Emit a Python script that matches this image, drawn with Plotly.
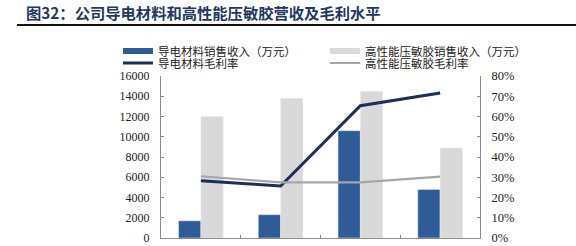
import plotly.graph_objects as go

categories = ["2019", "2020", "2021", "2022"]
conductive_rev = [1700, 2300, 10600, 4800]
adhesive_rev = [12000, 13800, 14500, 8900]
conductive_margin = [0.283, 0.257, 0.653, 0.716]
adhesive_margin = [0.305, 0.275, 0.275, 0.303]

names = ["导电材料销售收入（万元）", "高性能压敏胶销售收入（万元）",
         "导电材料毛利率", "高性能压敏胶毛利率"]
c_blue, c_gray, c_navy, c_lgray = "#2f5b97", "#d9d9d9", "#1c2e5a", "#a6a6a6"

W, H = 576, 246
L, R, T, B = 161, 96, 76, 8
pw, ph = W - L - R, H - T - B
def px(x): return (x - L) / pw
def py(y): return (H - B - y) / ph

fig = go.Figure()
fig.add_bar(x=categories, y=conductive_rev, marker_color=c_blue, name=names[0],
            showlegend=False)
fig.add_bar(x=categories, y=adhesive_rev, marker_color=c_gray, name=names[1],
            showlegend=False)
fig.add_scatter(x=categories, y=conductive_margin, yaxis="y2", mode="lines",
                line=dict(color=c_navy, width=3), name=names[2], showlegend=False)
fig.add_scatter(x=categories, y=adhesive_margin, yaxis="y2", mode="lines",
                line=dict(color=c_lgray, width=2.2), name=names[3], showlegend=False)

# legend entries (one legend per entry for compact spacing)
leg_specs = [
    (names[0], c_blue, 6, "legend", 118, 51),
    (names[2], c_navy, 3, "legend2", 118, 63),
    (names[1], c_gray, 6, "legend3", 325, 51),
    (names[3], c_lgray, 2.2, "legend4", 325, 63),
]
font_fam = "Liberation Serif, Noto Sans CJK SC"
legend_layouts = {}
for nm, col, w, lg, lx, ly in leg_specs:
    fig.add_scatter(x=[None], y=[None], mode="lines", line=dict(color=col, width=w),
                    name=nm, legend=lg)
    legend_layouts[lg] = dict(x=px(lx), y=py(ly), xanchor="left", yanchor="middle",
                              font=dict(size=11.5, family=font_fam, color="#222"),
                              bgcolor="rgba(0,0,0,0)", itemwidth=30)

axcol = "#8c8c8c"
fig.update_layout(
    width=W, height=H, margin=dict(l=L, r=R, t=T, b=B, autoexpand=False),
    plot_bgcolor="white", paper_bgcolor="white",
    font=dict(family=font_fam, size=12, color="#222"),
    barmode="group", bargap=0.44, bargroupgap=0,
    xaxis=dict(type="category", showline=True, linecolor=axcol, linewidth=1,
               ticks="inside", ticklen=3, tickcolor=axcol, tickson="boundaries",
               showticklabels=False, showgrid=False, zeroline=False),
    yaxis=dict(range=[0, 16000], dtick=2000, showline=True, linecolor=axcol,
               ticks="inside", ticklen=3, tickcolor=axcol, showgrid=False,
               zeroline=False, tickformat="d", ticklabelstandoff=8,
               tickfont=dict(size=12)),
    yaxis2=dict(range=[0, 0.8], dtick=0.1, overlaying="y", side="right",
                showline=True, linecolor=axcol, ticks="inside", ticklen=3,
                tickcolor=axcol, showgrid=False, zeroline=False, tickformat=".0%",
                ticklabelstandoff=8, tickfont=dict(size=12.5)),
    shapes=[dict(type="line", xref="paper", yref="paper", x0=px(17), x1=px(576),
                 y0=py(25), y1=py(25), line=dict(color="#111", width=2))],
    annotations=[dict(text="<b>图32：公司导电材料和高性能压敏胶营收及毛利水平</b>",
                      xref="paper", yref="paper", x=px(24), y=py(12),
                      xanchor="left", yanchor="middle", showarrow=False,
                      font=dict(size=15.3, color="#1f3864",
                                family="Noto Sans CJK SC"))],
    **legend_layouts,
)
fig.write_html("out.html")
